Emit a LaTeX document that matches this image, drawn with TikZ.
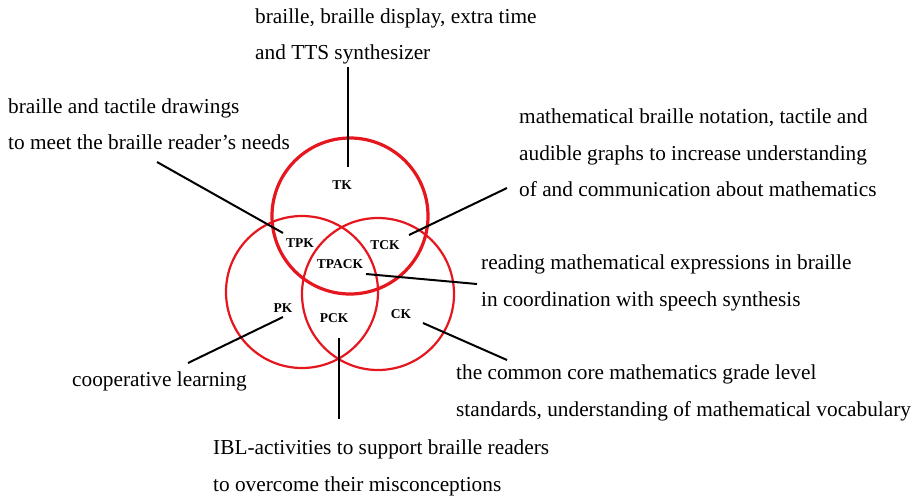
\documentclass[tikz,border=0pt]{standalone}
\usepackage{fontspec}
\setmainfont{Liberation Serif}
\usetikzlibrary{positioning}
\definecolor{vennred}{HTML}{E5161E}

\tikzset{
  venn/.style={draw=vennred, circle, line width=2.2pt, inner sep=0pt, minimum size=152pt},
  part/.style={font=\fontsize{13.5}{13.5}\selectfont\bfseries},
  note/.style={font=\fontsize{21.3}{36.5}\selectfont, align=left, anchor=west, inner sep=0pt},
  link/.style={line width=2pt, black}
}

\begin{document}
\begin{tikzpicture}[x=1pt,y=-1pt]
\useasboundingbox (0,0) rectangle (923,498);

% the three knowledge circles
\node[venn] (pkc) at (302,292) {};
\node[venn] (ckc) at (378,294) {};
\node[venn, minimum size=156pt, line width=3.2pt] (tkc) at (350,216) {};

% region labels
\node[part] (tk) at (342,185) {TK};
\node[part] (tpk) at (300,243) {TPK};
\node[part] (tck) at (385,245) {TCK};
\node[part] (tpack) at (340,264) {TPACK};
\node[part] (pk) at (283,308) {PK};
\node[part] (pck) at (334,318) {PCK};
\node[part] (ck) at (401,314) {CK};

% explanations
\node[note] (tknote) at (255,36.5) {braille, braille display, extra time\\and TTS synthesizer};
\node[note] (tpknote) at (8,124) {braille and tactile drawings\\to meet the braille reader’s needs};
\node[note] (tcknote) at (519,153) {mathematical braille notation, tactile and\\audible graphs to increase understanding\\of and communication about mathematics};
\node[note] (tpacknote) at (481,283) {reading mathematical expressions in braille\\in coordination with speech synthesis};
\node[note] (cknote) at (456,393) {the common core mathematics grade level\\standards, understanding of mathematical vocabulary};
\node[note] (pknote) at (72,381) {cooperative learning};
\node[note] (pcknote) at (213,468) {IBL-activities to support braille readers\\to overcome their misconceptions};

% pointer ends
\coordinate (tk-in) at (348,167);
\coordinate (tk-out) at (348,67);
\coordinate (tpk-in) at (283,233);
\coordinate (tpk-out) at (157,162);
\coordinate (tck-in) at (409,235);
\coordinate (tck-out) at (507,188);
\coordinate (tpack-in) at (366,274);
\coordinate (tpack-out) at (477,284);
\coordinate (pk-in) at (283,317);
\coordinate (pk-out) at (188,363);
\coordinate (ck-in) at (423,323);
\coordinate (ck-out) at (507,360);
\coordinate (pck-in) at (339,338);
\coordinate (pck-out) at (339,419);

% pointers
\foreach \p in {tk,tpk,tck,tpack,pk,ck,pck}
  \draw[link] (\p-in) -- (\p-out);
\end{tikzpicture}
\end{document}
